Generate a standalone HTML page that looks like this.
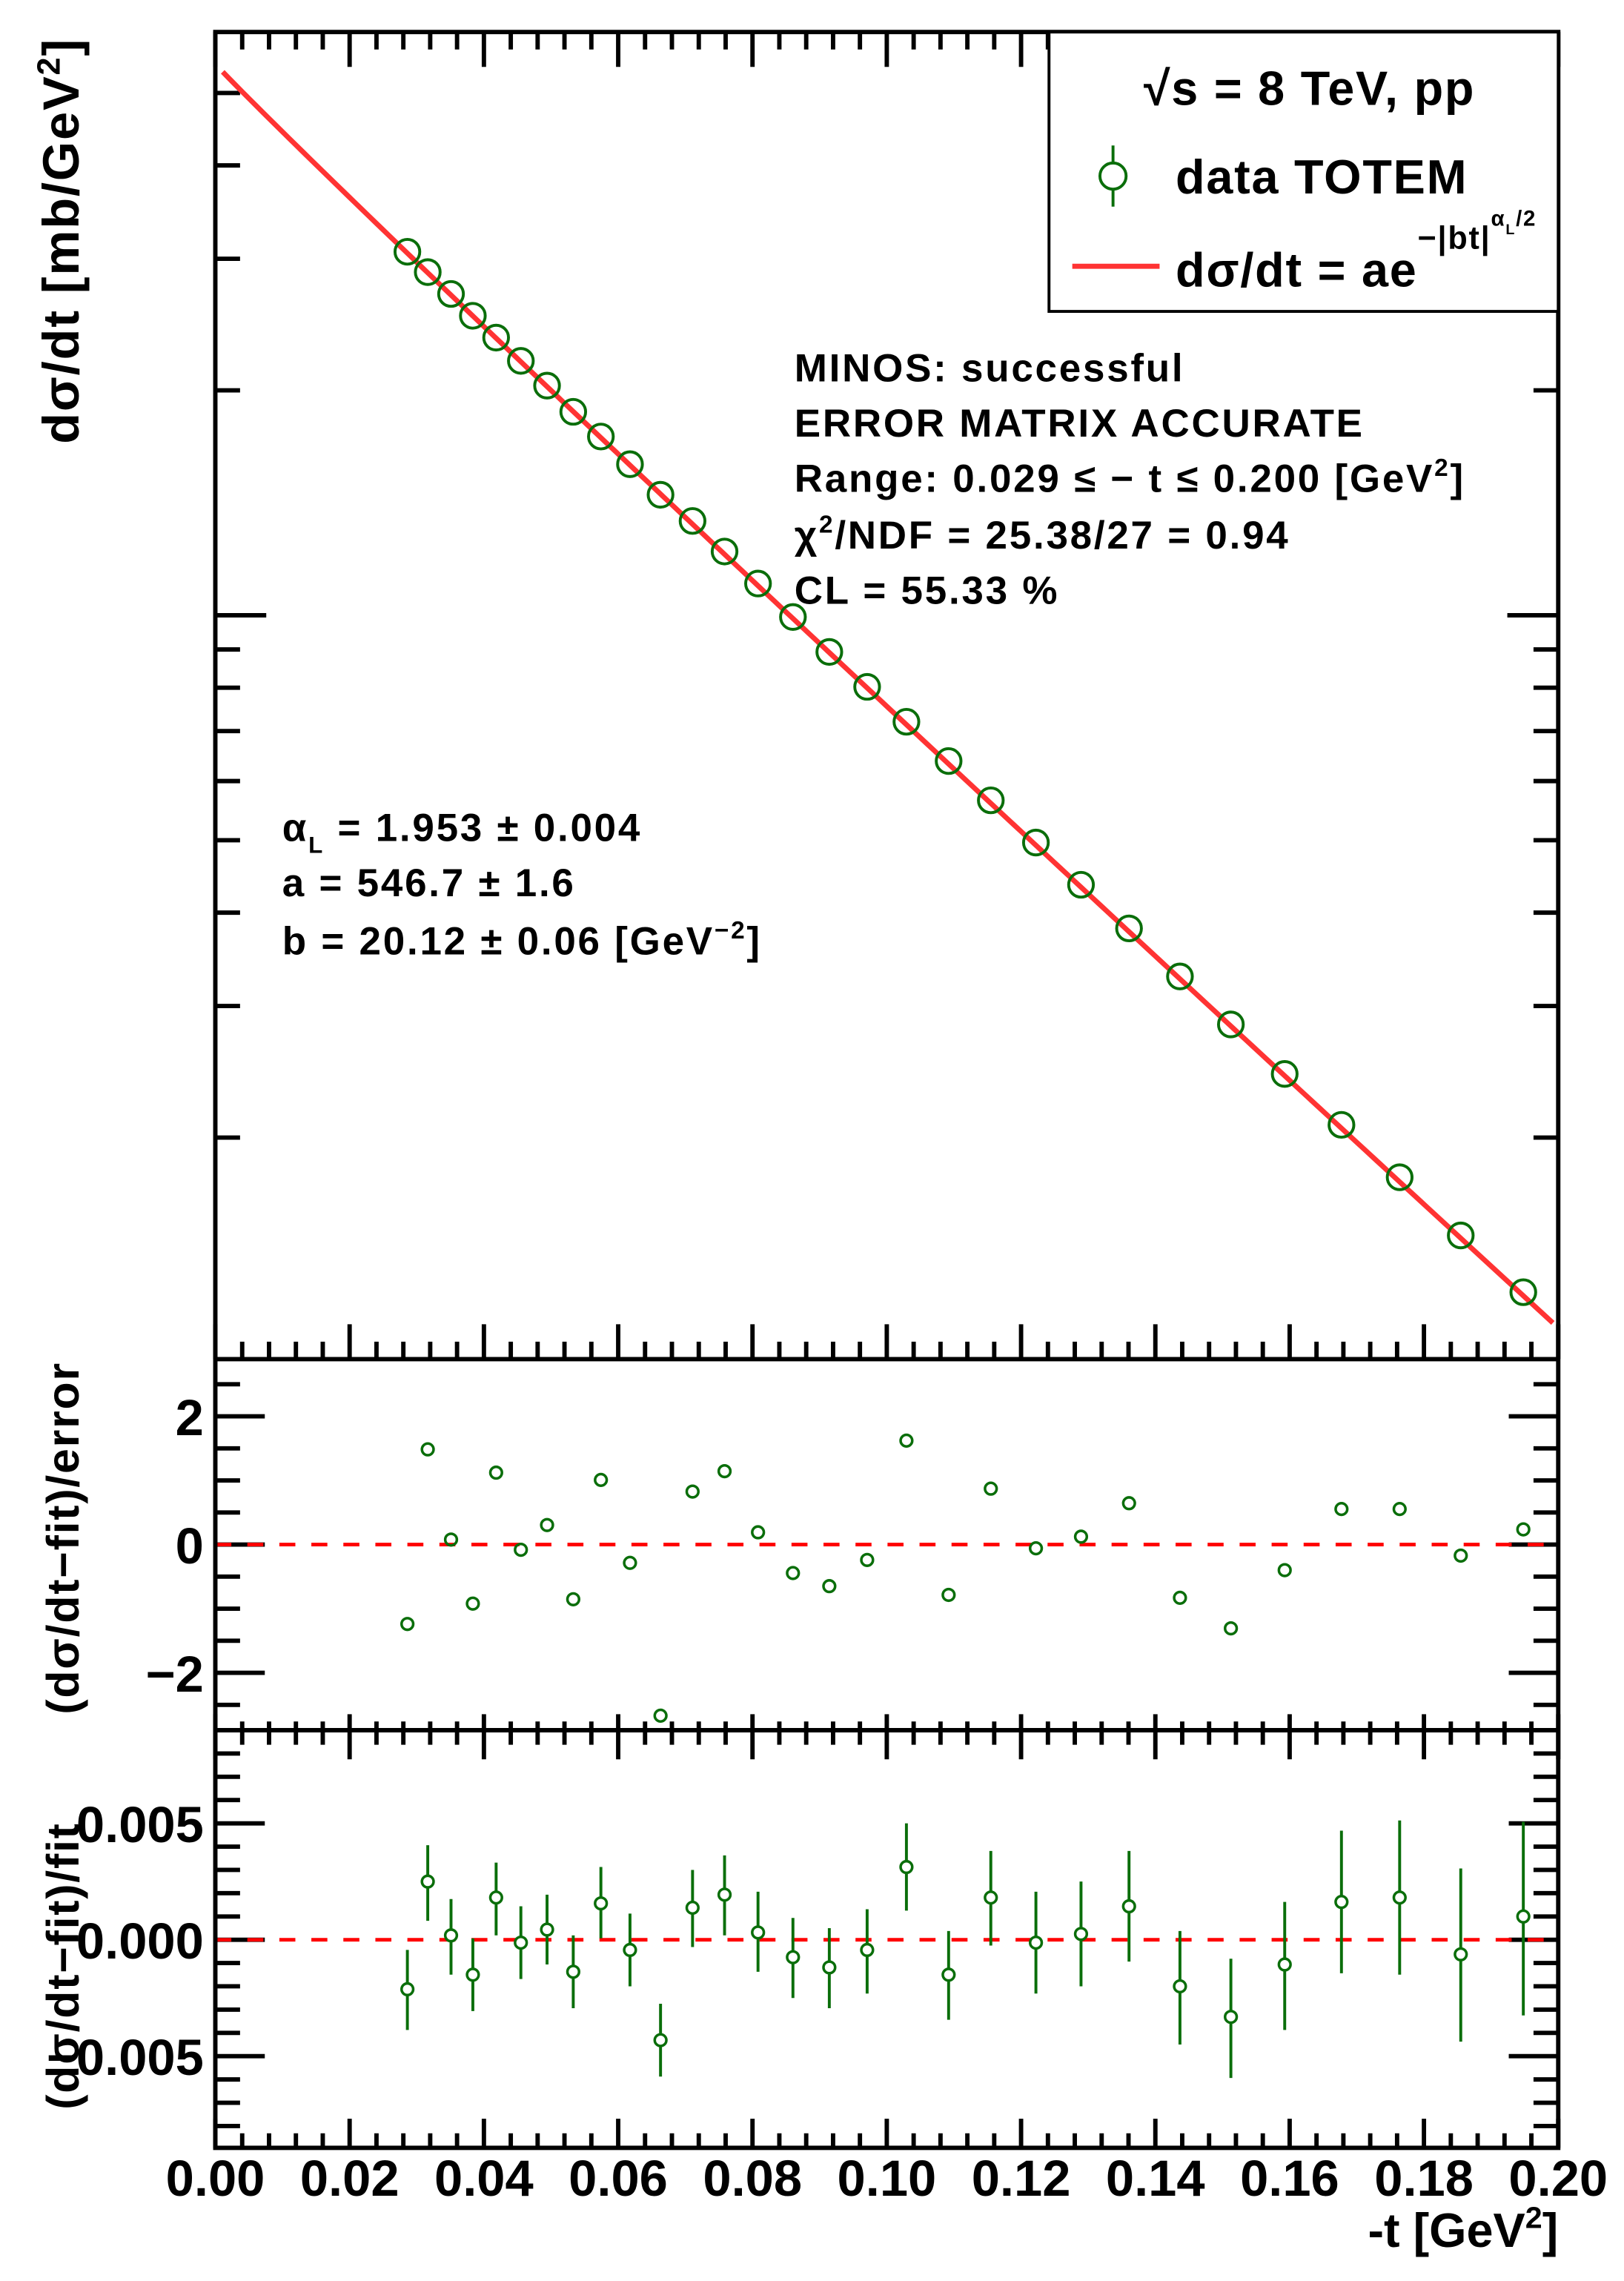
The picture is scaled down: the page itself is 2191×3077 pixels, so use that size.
<!DOCTYPE html>
<html><head><meta charset="utf-8"><style>
html,body{margin:0;padding:0;background:#fff;}
svg{display:block;}
text{font-family:"Liberation Sans",Arial,sans-serif;font-weight:bold;fill:#000;}
.w{letter-spacing:1.4px;}
.w2{letter-spacing:0.9px;}
</style></head><body>
<svg id="s" xmlns="http://www.w3.org/2000/svg" width="2191" height="3077" viewBox="0 0 1116.2 1567.5" preserveAspectRatio="none">
<rect x="0" y="0" width="1116.2" height="1567.5" fill="#fff"/>
<g id="g"></g>
<text class="w" x="546" y="262" font-size="27">MINOS: successful</text>
<text class="w" x="546" y="300" font-size="27">ERROR MATRIX ACCURATE</text>
<text class="w" x="546" y="338" font-size="27">Range: 0.029 ≤ − t ≤ 0.200 [GeV<tspan dy="-11" font-size="17">2</tspan><tspan dy="11">]</tspan></text>
<text class="w" x="546" y="377" font-size="27">χ<tspan dy="-11" font-size="17">2</tspan><tspan dy="11">/NDF = 25.38/27 = 0.94</tspan></text>
<text class="w" x="546" y="415" font-size="27">CL = 55.33 %</text>
<text class="w" x="194" y="578" font-size="27">α<tspan dy="8" font-size="16">L</tspan><tspan dy="-8"> = 1.953  ± 0.004</tspan></text>
<text class="w" x="194" y="616" font-size="27">a = 546.7  ± 1.6</text>
<text class="w" x="194" y="656" font-size="27">b = 20.12 ± 0.06 [GeV<tspan dy="-11" font-size="17">−2</tspan><tspan dy="11">]</tspan></text>
<rect x="721" y="22" width="350" height="192" fill="#fff" stroke="#000" stroke-width="2"/>
<text class="w2" x="900" y="72" font-size="33" text-anchor="middle">√s = 8 TeV, pp</text>
<line x1="765" y1="100" x2="765" y2="142" stroke="#0a6e0a" stroke-width="2"/>
<circle cx="765" cy="121" r="9" fill="#fff" stroke="#0a6e0a" stroke-width="2"/>
<text class="w2" x="808" y="133" font-size="33">data TOTEM</text>
<line x1="737" y1="183" x2="797" y2="183" stroke="#ff3333" stroke-width="3.5"/>
<text class="w2" x="808" y="197" font-size="33">dσ/dt = ae<tspan dy="-26" font-size="22">−|bt|</tspan><tspan dy="-16" font-size="15">α</tspan><tspan dy="6" font-size="10">L</tspan><tspan dy="-6" font-size="15">/2</tspan></text>
<text class="w2" transform="translate(54,26) rotate(-90)" font-size="35" text-anchor="end">dσ/dt [mb/GeV<tspan dy="-13" font-size="22">2</tspan><tspan dy="13">]</tspan></text>
<text class="w2" transform="translate(54,1057) rotate(-90)" font-size="31" text-anchor="middle">(dσ/dt−fit)/error</text>
<text class="w2" transform="translate(54,1351) rotate(-90)" font-size="31" text-anchor="middle">(dσ/dt−fit)/fit</text>
<text x="1071" y="1544" font-size="33" text-anchor="end">-t [GeV<tspan dy="-13" font-size="21">2</tspan><tspan dy="13">]</tspan></text>
</svg>
<script>
(function(){
var NS="http://www.w3.org/2000/svg",g=document.getElementById("g");
function el(t,a){var e=document.createElementNS(NS,t);for(var k in a)e.setAttribute(k,a[k]);g.appendChild(e);return e;}
function ln(x1,y1,x2,y2,c,w,d){var a={x1:x1,y1:y1,x2:x2,y2:y2,stroke:c||"#000","stroke-width":w||3};if(d)a["stroke-dasharray"]=d;return el("line",a);}
function tx(x,y,s,fs,anc){var e=el("text",{x:x,y:y,"font-size":fs,"text-anchor":anc||"middle"});e.textContent=s;return e;}
var L=148,R=1071,T=22,B1=934,B2=1189,B3=1476;
function X(t){return L+t*(R-L)/0.2;}
for(var i=0;i<=50;i++){var t=i*0.004,x=X(t),maj=(i%5==0);
 var lm=maj?24:12;
 ln(x,T,x,T+lm); ln(x,B1,x,B1-lm);
 var lr=maj?11:6; ln(x,B2,x,B2-lr);
 var ll=maj?20:10; ln(x,B2,x,B2+ll); ln(x,B3,x,B3-ll);
 if(maj) tx(x,1509,(t).toFixed(2),35);
}
function YV(v){return (830-1008*Math.log10(v/100))/1.963;}
var vs=[20,30,40,50,60,70,80,90,100,200,300,400,500];
vs.forEach(function(v){var y=YV(v);var l=(v==100)?35:17;ln(L,y,L+l,y);ln(R,y,R-l,y);});
var Z=2083.6/1.963,U=86.5/1.963;
for(var k=-5;k<=5;k++){var v=k*0.5,y=Z-v*U;var maj=(k%4==0);var l=maj?34:17;ln(L,y,L+l,y);ln(R,y,R-l,y);}
tx(140,Z-2*U+13,"2",35,"end");tx(140,Z+13,"0",35,"end");tx(140,Z+2*U+13,"−2",35,"end");
var Z3=1333,U3=16;
for(var k=-8;k<=8;k++){var y=Z3-k*U3;var maj=(k%5==0);var l=maj?34:17;ln(L,y,L+l,y);ln(R,y,R-l,y);}
tx(140,Z3-5*U3+13,"0.005",35,"end");tx(140,Z3+13,"0.000",35,"end");tx(140,Z3+5*U3+13,"−0.005",35,"end");
ln(L,Z,R,Z,"#ff0000",2.5,"11 11");ln(L,Z3,R,Z3,"#ff0000",2.5,"11 11");
el("rect",{x:L,y:T,width:R-L,height:B3-T,fill:"none",stroke:"#000","stroke-width":3});
ln(L,B1,R,B1);ln(L,B2,R,B2);
var pts=[];for(var i=0;i<=200;i++){var t=0.0011+i*(0.1992-0.0011)/200;var f=Math.pow(20.12*t,0.9765)/Math.LN10;
 var lv=Math.log10(546.7)-f;pts.push(X(t).toFixed(2)+","+((830-1008*(lv-2))/1.963).toFixed(2));}
el("polyline",{points:pts.join(" "),fill:"none",stroke:"#ff3333","stroke-width":3.5});
var px=[280,294,310,325,341,358,376,394,413,433,454,476,498,521,545,570,596,623,652,681,712,743,776,811,846,883,922,962,1004,1047];
var py=[173,187,202,217,232,248,265,283,300,319,340,358,379,401,424,448,472,496,523,550,579,608,638,671,704,738,773,809,849,888];
var ry=[1116,996,1058,1102,1012,1065,1048,1099,1017,1074,1179,1025,1011,1053,1081,1090,1072,990,1096,1023,1064,1056,1033,1098,1119,1079,1037,1037,1069,1051];
var fy=[[1367,1340,1395],[1293,1268,1320],[1330,1305,1357],[1357,1332,1382],[1304,1280,1330],[1335,1310,1360],[1326,1302,1350],[1355,1330,1380],[1308,1283,1332],[1340,1315,1365],[1402,1377,1427],[1311,1285,1338],[1302,1275,1330],[1328,1300,1355],[1345,1318,1373],[1352,1325,1380],[1340,1312,1370],[1283,1253,1313],[1357,1327,1388],[1304,1272,1337],[1335,1300,1370],[1329,1293,1365],[1310,1272,1348],[1365,1327,1405],[1386,1346,1428],[1350,1307,1395],[1307,1258,1356],[1304,1251,1357],[1343,1284,1403],[1317,1252,1385]];
var G="#0a6e0a";
for(var i=0;i<30;i++){
 el("circle",{cx:px[i],cy:py[i],r:8.5,fill:"none",stroke:G,"stroke-width":2});
 el("circle",{cx:px[i],cy:ry[i],r:4,fill:"none",stroke:G,"stroke-width":1.8});
 ln(px[i],fy[i][1],px[i],fy[i][2],G,2);
 el("circle",{cx:px[i],cy:fy[i][0],r:4,fill:"#fff",stroke:G,"stroke-width":1.8});
}
})();
</script>
</body></html>
